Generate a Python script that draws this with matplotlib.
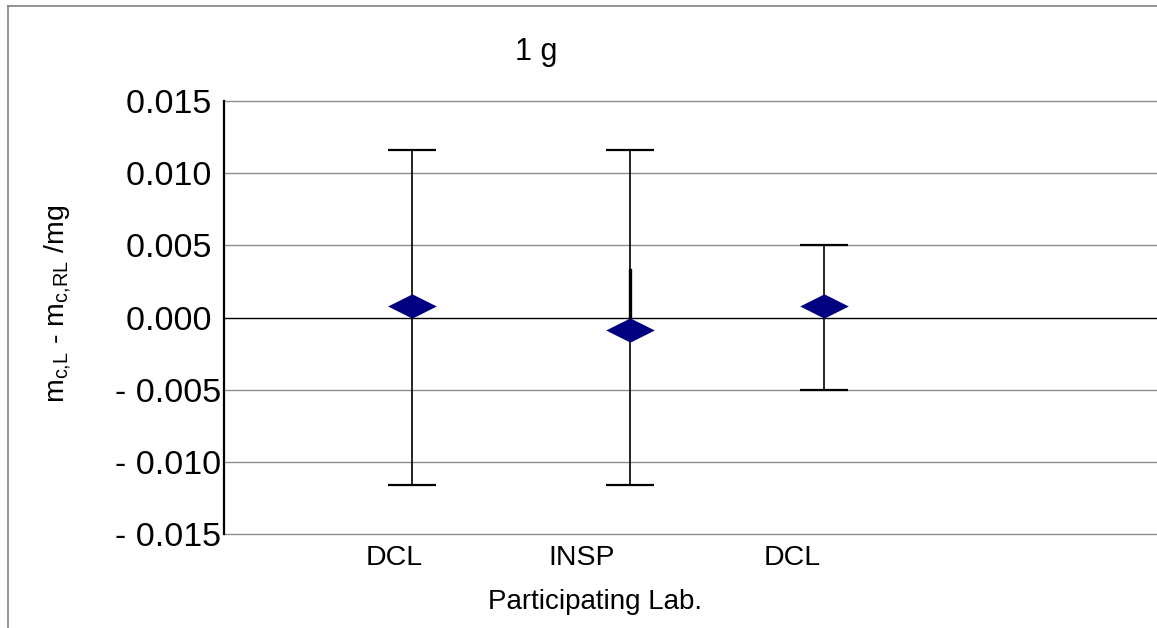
import matplotlib.pyplot as plt
from matplotlib.lines import Line2D
from matplotlib.path import Path
import numpy as np

plt.rcParams['font.family'] = ['Liberation Sans', 'DejaVu Sans']

# data
labs = ['DCL', 'INSP', 'DCL']
lab_pos = [0.82, 1.727, 2.74]          # where the category labels sit
point_pos = [0.907, 1.958, 2.894]      # where the markers sit
deviation = [0.0008, -0.00087, 0.0008]   # m_c,L - m_c,RL / mg
uncert = [0.0116, 0.0116, 0.005]         # error bar half width, centred on zero
insp_extra = [0.0, 0.0033]               # short heavy segment on INSP bar

yticks = [0.015, 0.010, 0.005, 0.0, -0.005, -0.010, -0.015]

fig = plt.figure(figsize=(11.57, 6.28), dpi=100)
ax = fig.add_axes([224 / 1157, 1 - 534 / 628, 1 - 224 / 1157, (534 - 101) / 628])

# gridlines
for t in yticks:
    if t == 0:
        ax.axhline(t, color='black', lw=1.0, zorder=1)
    else:
        ax.axhline(t, color='#8f8f8f', lw=1.0, zorder=1, clip_on=False)

# error bars centred on zero
ax.errorbar(point_pos, np.zeros(len(point_pos)), yerr=uncert, fmt='none',
            ecolor='black', elinewidth=1.2, capsize=17.5, capthick=1.6, zorder=2)
ax.plot([point_pos[1], point_pos[1]], insp_extra, color='black', lw=2.4, zorder=2)

# flattened diamond marker
diamond = Path([(-1, 0), (0, 0.5), (1, 0), (0, -0.5), (-1, 0)],
               [Path.MOVETO, Path.LINETO, Path.LINETO, Path.LINETO, Path.CLOSEPOLY])
ax.plot(point_pos, deviation, linestyle='none', marker=diamond, markersize=35,
        color='#000080', markeredgewidth=0, zorder=3)

ax.set_xlim(0, 4.5)
ax.set_ylim(-0.015, 0.015)
ax.set_yticks(yticks)
# excel style format: positive values keep a trailing space
ax.set_yticklabels([('- %.3f' % abs(t)) if t < 0 else '%.3f ' % t for t in yticks],
                   fontsize=24.5)
ax.set_xticks(lab_pos)
ax.set_xticklabels(labs, fontsize=20.5)
ax.tick_params(axis='both', length=0)
ax.tick_params(axis='y', pad=2)
ax.tick_params(axis='x', pad=8)

for s in ['top', 'right', 'bottom']:
    ax.spines[s].set_visible(False)
ax.spines['left'].set_linewidth(1.6)
ax.spines['left'].set_color('black')
ax.spines['left'].set_zorder(4)

fig.text(536 / 1157, 1 - 52 / 628, '1 g', fontsize=22, ha='center', va='center')
fig.text(595 / 1157, 1 - 602 / 628, 'Participating Lab.', fontsize=20,
         ha='center', va='center')
fig.text(59 / 1157, 1 - 304 / 628,
         r'm$_{\mathregular{c{,}L}}$ - m$_{\mathregular{c{,}RL}}$ /mg',
         fontsize=20.5, rotation=90, ha='center', va='center')

# outer frame lines (left and top only)
fig.add_artist(Line2D([8 / 1157, 8 / 1157], [0, 1 - 6 / 628], color='#808080', lw=1.2,
                      transform=fig.transFigure))
fig.add_artist(Line2D([8 / 1157, 1], [1 - 6 / 628, 1 - 6 / 628], color='#808080', lw=1.2,
                      transform=fig.transFigure))

fig.savefig('out.png', dpi=100)
